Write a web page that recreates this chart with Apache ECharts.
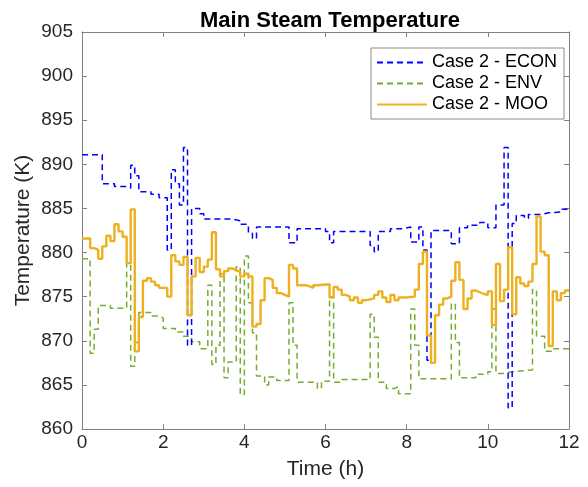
<!DOCTYPE html>
<html>
<head>
<meta charset="utf-8">
<script src="https://cdn.jsdelivr.net/npm/echarts@6/dist/echarts.min.js"></script>
<style>html,body{margin:0;padding:0;background:#fff}#c{width:588px;height:487px}</style>
</head>
<body>
<div id="c"></div>
<script>
// ---- data (time in h, temperature in K); each value holds until the next time ----
const xTicks = [0, 2, 4, 6, 8, 10, 12];
const yTicks = [860, 865, 870, 875, 880, 885, 890, 895, 900, 905];

const econTimes = [0, 0.5, 0.8, 1.1, 1.2, 1.3, 1.4, 1.7, 1.9, 2.1, 2.2, 2.3, 2.4, 2.5, 2.6, 2.7, 2.9, 3.0, 3.7, 3.9,
  4.1, 4.2, 4.3, 5.1, 5.3, 6.0, 6.1, 6.2, 7.1, 7.2, 7.3, 7.6, 7.9, 8.1, 8.3, 8.4, 8.5, 8.6, 9.1, 9.3,
  9.5, 9.8, 10.0, 10.2, 10.4, 10.5, 10.6, 10.7, 10.9, 11.0, 11.3, 11.5, 11.8, 12];
const econTemps = [891.1, 887.8, 887.5, 887.3, 889.9, 888.7, 886.9, 886.6, 886.2, 880.3, 889.4, 887.8, 885.4, 891.9, 869.5, 885.0, 884.4, 883.8, 883.6, 883.2,
  882.2, 881.6, 882.9, 881.1, 882.7, 882.4, 881.1, 882.4, 880.8, 880.1, 882.4, 882.7, 882.9, 881.2, 882.9, 880.3, 867.8, 882.5, 881.0, 882.8,
  883.1, 883.4, 882.8, 885.4, 891.9, 862.4, 883.3, 884.2, 883.9, 884.3, 884.5, 884.6, 884.9, 884.9];

const envTimes = [0, 0.2, 0.3, 0.4, 0.7, 1.1, 1.2, 1.3, 1.4, 1.7, 1.9, 2.0, 2.3, 2.5, 2.7, 2.9, 3.1, 3.2, 3.3, 3.4,
  3.5, 3.6, 3.8, 3.9, 4.0, 4.1, 4.2, 4.3, 4.5, 4.6, 4.8, 5.1, 5.2, 5.3, 5.8, 5.9, 6.1, 6.2, 6.4, 7.1,
  7.2, 7.3, 7.5, 7.7, 7.8, 8.1, 8.2, 8.3, 9.1, 9.2, 9.3, 9.7, 10.0, 10.1, 10.2, 10.4, 10.6, 11.1, 11.2, 11.4,
  11.6, 12];
const envTemps = [879.3, 868.6, 871.3, 874.0, 873.7, 878.8, 867.1, 869.8, 873.2, 872.8, 872.6, 871.4, 871.0, 870.5, 869.9, 869.1, 876.3, 867.3, 869.5, 877.6,
  865.8, 867.6, 878.4, 863.9, 879.6, 874.3, 870.9, 866.0, 865.0, 865.9, 865.5, 874.3, 869.5, 865.3, 864.6, 865.4, 875.0, 865.3, 865.6, 873.0,
  870.4, 865.3, 864.6, 864.8, 864.0, 873.6, 869.5, 865.7, 874.2, 869.8, 865.8, 866.2, 866.5, 873.6, 866.3, 866.5, 866.7, 875.8, 870.5, 868.8,
  869.1, 869.1];

const mooTimes = [0, 0.2, 0.3, 0.4, 0.5, 0.6, 0.7, 0.8, 0.9, 1.0, 1.1, 1.2, 1.3, 1.4, 1.5, 1.6, 1.7, 1.8, 1.9, 2.1,
  2.2, 2.3, 2.4, 2.5, 2.6, 2.7, 2.8, 2.9, 3.0, 3.1, 3.2, 3.3, 3.4, 3.5, 3.6, 3.7, 3.8, 3.9, 4.0, 4.1,
  4.2, 4.3, 4.4, 4.5, 4.6, 4.7, 4.8, 4.9, 5.0, 5.1, 5.2, 5.3, 5.5, 5.6, 5.7, 5.8, 6.1, 6.2, 6.3, 6.4,
  6.5, 6.6, 6.7, 6.8, 6.9, 7.0, 7.1, 7.2, 7.3, 7.4, 7.5, 7.6, 7.7, 7.8, 8.0, 8.2, 8.3, 8.4, 8.5, 8.6,
  8.7, 8.8, 8.9, 9.0, 9.1, 9.2, 9.3, 9.4, 9.5, 9.6, 9.7, 9.8, 9.9, 10.0, 10.1, 10.2, 10.3, 10.4, 10.5, 10.6,
  10.7, 10.8, 10.9, 11.0, 11.1, 11.2, 11.3, 11.4, 11.5, 11.6, 11.7, 11.8, 11.9, 12];
const mooTemps = [881.6, 880.5, 880.3, 879.3, 880.7, 881.9, 881.3, 883.2, 882.4, 881.8, 878.8, 884.9, 868.8, 872.7, 876.8, 877.1, 876.7, 876.3, 876.0, 875.0,
  879.7, 879.0, 878.6, 879.5, 872.9, 877.3, 879.4, 877.8, 878.4, 879.2, 882.3, 878.1, 877.3, 877.9, 878.2, 878.0, 877.8, 877.3, 877.6, 877.3,
  871.6, 871.9, 874.6, 877.1, 876.9, 876.0, 875.4, 875.2, 875.0, 878.6, 878.2, 876.3, 876.2, 876.0, 876.3, 876.4, 874.9, 876.1, 875.8, 875.2,
  875.0, 874.6, 874.9, 874.3, 874.6, 874.7, 874.8, 875.2, 875.6, 874.9, 874.4, 875.2, 874.6, 874.9, 875.0, 875.8, 878.7, 880.1, 870.6, 867.5,
  872.9, 874.1, 874.8, 875.0, 876.8, 878.9, 876.9, 873.6, 874.8, 875.7, 875.5, 875.3, 875.2, 875.6, 871.8, 878.7, 874.5, 875.8, 880.6, 873.0,
  877.2, 876.5, 876.2, 876.7, 878.7, 884.1, 880.1, 879.7, 869.4, 875.6, 874.6, 875.4, 875.7, 875.7];

const seriesNames = ['Case 2 - ECON', 'Case 2 - ENV', 'Case 2 - MOO'];

// ---- chart ----
const pairs = (ts, vs) => ts.map((t, i) => [t, vs[i]]);
const FONT = 'Liberation Sans, Arial, Helvetica, sans-serif';
const AX = '#808080';
const chart = echarts.init(document.getElementById('c'), null, {renderer: 'canvas'});

const baseX = {
  type: 'value', min: xTicks[0], max: xTicks[xTicks.length - 1], interval: xTicks[1] - xTicks[0],
  splitLine: {show: false},
  axisLine: {show: true, onZero: false, lineStyle: {color: AX, width: 1}},
  axisTick: {show: true, inside: true, length: 5, lineStyle: {color: AX}},
};
const baseY = {
  type: 'value', min: yTicks[0], max: yTicks[yTicks.length - 1], interval: yTicks[1] - yTicks[0],
  splitLine: {show: false},
  axisLine: {show: true, onZero: false, lineStyle: {color: AX, width: 1}},
  axisTick: {show: true, inside: true, length: 5, lineStyle: {color: AX}},
};

chart.setOption({
  animation: false,
  backgroundColor: '#fff',
  title: {
    text: 'Main Steam Temperature', left: 325, top: 5, textAlign: 'center',
    textStyle: {fontFamily: FONT, fontSize: 22, fontWeight: 'bold', color: '#000'}
  },
  grid: {left: 82, right: 19, top: 32, bottom: 58, containLabel: false},
  legend: {
    data: seriesNames, orient: 'vertical', left: 371, top: 48,
    itemWidth: 50, itemHeight: 14, itemGap: 2, padding: [5, 7, 5, 5],
    itemStyle: {opacity: 0},
    borderColor: '#8c8c8c', borderWidth: 1, backgroundColor: '#fff',
    textStyle: {fontFamily: FONT, fontSize: 18, color: '#000', lineHeight: 19}
  },
  xAxis: [
    Object.assign({}, baseX, {
      position: 'bottom', name: 'Time (h)', nameLocation: 'middle', nameGap: 30, nameMoveOverlap: false,
      nameTextStyle: {fontFamily: FONT, fontSize: 21, color: '#262626'},
      axisLabel: {fontFamily: FONT, fontSize: 19, color: '#262626', margin: 4}
    }),
    Object.assign({}, baseX, {position: 'top', axisLabel: {show: false}})
  ],
  yAxis: [
    Object.assign({}, baseY, {
      position: 'left', name: 'Temperature (K)', nameLocation: 'middle', nameGap: 48, nameMoveOverlap: false,
      nameTextStyle: {fontFamily: FONT, fontSize: 21, color: '#262626'},
      axisLabel: {fontFamily: FONT, fontSize: 19, color: '#262626', margin: 9}
    }),
    Object.assign({}, baseY, {position: 'right', axisLabel: {show: false}})
  ],
  series: [
    {
      name: seriesNames[0], type: 'line', step: 'end', symbol: 'none', data: pairs(econTimes, econTemps),
      lineStyle: {color: '#0000ff', width: 1.5, type: [6, 4]}, itemStyle: {color: '#0000ff'}, z: 3
    },
    {
      name: seriesNames[1], type: 'line', step: 'end', symbol: 'none', data: pairs(envTimes, envTemps),
      lineStyle: {color: '#77ac30', width: 1.5, type: [6, 4]}, itemStyle: {color: '#77ac30'}, z: 2
    },
    {
      name: seriesNames[2], type: 'line', step: 'end', symbol: 'none', data: pairs(mooTimes, mooTemps),
      lineStyle: {color: '#edb120', width: 2.4, type: 'solid'}, itemStyle: {color: '#edb120'}, z: 4
    }
  ]
});
</script>
</body>
</html>
